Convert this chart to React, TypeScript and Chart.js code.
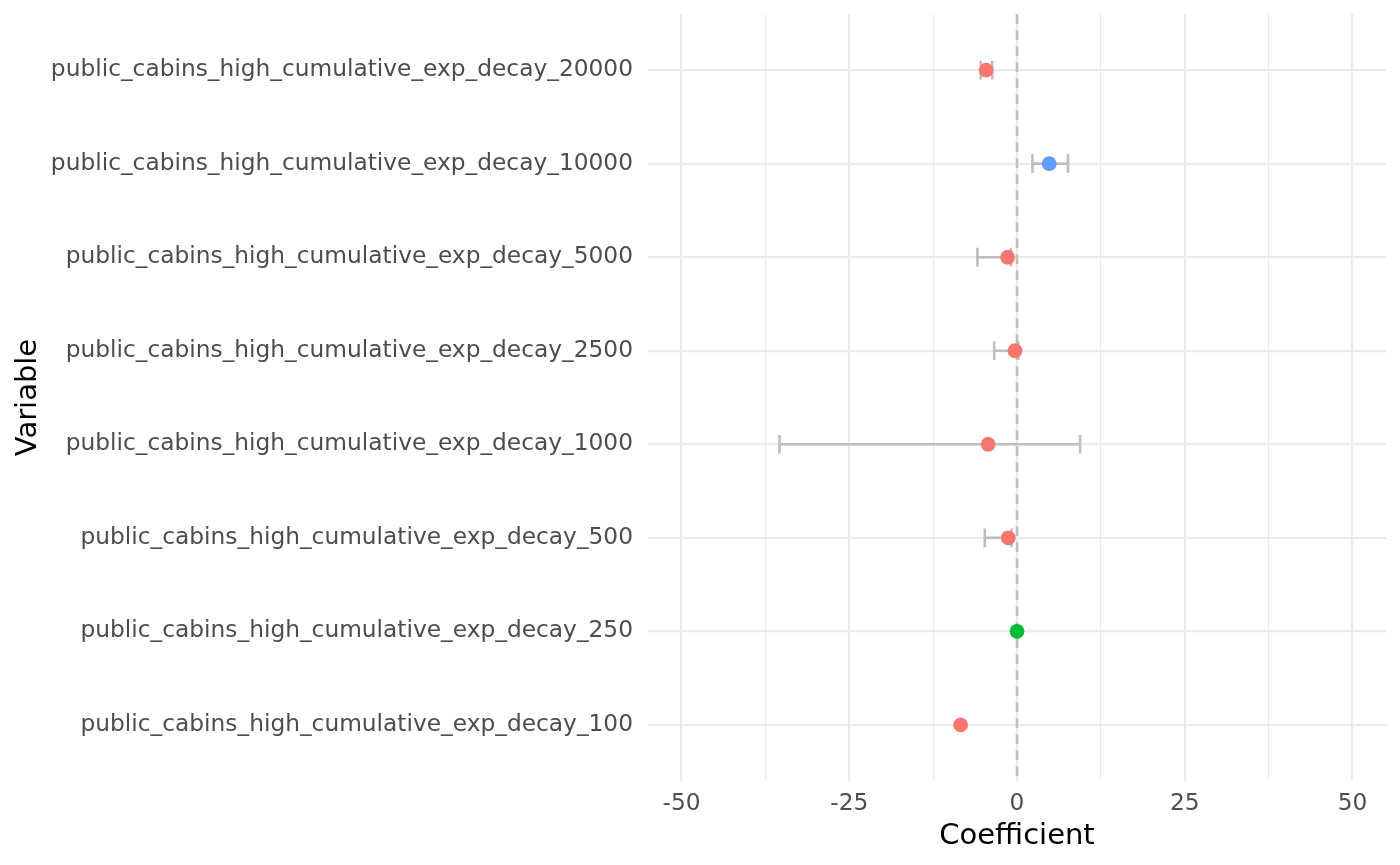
import React, { useEffect, useRef } from "react";
import { Chart, registerables } from "chart.js";

Chart.register(...registerables);

// Data (bottom to top)
const variables = [
  "public_cabins_high_cumulative_exp_decay_100",
  "public_cabins_high_cumulative_exp_decay_250",
  "public_cabins_high_cumulative_exp_decay_500",
  "public_cabins_high_cumulative_exp_decay_1000",
  "public_cabins_high_cumulative_exp_decay_2500",
  "public_cabins_high_cumulative_exp_decay_5000",
  "public_cabins_high_cumulative_exp_decay_10000",
  "public_cabins_high_cumulative_exp_decay_20000",
];
const coefficients = [-8.4, 0.0, -1.3, -4.3, -0.3, -1.4, 4.8, -4.6];
const lowerCI: (number | null)[] = [null, null, -4.8, -35.4, -3.4, -5.9, 2.3, -5.4];
const upperCI: (number | null)[] = [null, null, -0.8, 9.4, 0.2, -0.9, 7.6, -3.7];
const groups = ["neg", "zero", "neg", "neg", "neg", "neg", "pos", "neg"];
const groupColors: Record<string, string> = {
  neg: "#F8766D",
  zero: "#00BA38",
  pos: "#619CFF",
};
const xTickValues = [-50, -37.5, -25, -12.5, 0, 12.5, 25, 37.5, 50];
const xMajorTicks = [-50, -25, 0, 25, 50];

const FONT = "'DejaVu Sans', 'Liberation Sans', sans-serif";

const errorBarPlugin = {
  id: "errorBars",
  beforeDatasetsDraw(chart: any) {
    const { ctx, scales, chartArea } = chart;
    const xs = scales.x;
    const ys = scales.y;
    ctx.save();
    // zero reference line
    const x0 = xs.getPixelForValue(0);
    ctx.strokeStyle = "#BEBEBE";
    ctx.lineWidth = 2.6;
    ctx.setLineDash([10, 6]);
    ctx.beginPath();
    ctx.moveTo(x0, chartArea.top);
    ctx.lineTo(x0, chartArea.bottom);
    ctx.stroke();
    ctx.setLineDash([]);
    // error bars
    ctx.strokeStyle = "#BEBEBE";
    ctx.lineWidth = 2.6;
    for (let i = 0; i < variables.length; i++) {
      const lo = lowerCI[i];
      const hi = upperCI[i];
      if (lo === null || hi === null) continue;
      const y = ys.getPixelForValue(i + 1);
      const yTop = ys.getPixelForValue(i + 1 + 0.1);
      const yBot = ys.getPixelForValue(i + 1 - 0.1);
      const xl = xs.getPixelForValue(lo);
      const xh = xs.getPixelForValue(hi);
      ctx.beginPath();
      ctx.moveTo(xl, y);
      ctx.lineTo(xh, y);
      ctx.moveTo(xl, yTop);
      ctx.lineTo(xl, yBot);
      ctx.moveTo(xh, yTop);
      ctx.lineTo(xh, yBot);
      ctx.stroke();
    }
    ctx.restore();
  },
};

export default function App() {
  const canvasRef = useRef<HTMLCanvasElement | null>(null);

  useEffect(() => {
    if (!canvasRef.current) return;
    const chart = new Chart(canvasRef.current, {
      type: "scatter",
      data: {
        datasets: [
          {
            data: coefficients.map((c, i) => ({ x: c, y: i + 1 })),
            pointRadius: 7.4,
            pointHoverRadius: 7.4,
            pointBorderWidth: 0,
            pointBackgroundColor: groups.map((g) => groupColors[g]),
            pointBorderColor: groups.map((g) => groupColors[g]),
          },
        ],
      },
      options: {
        animation: false,
        responsive: true,
        maintainAspectRatio: false,
        events: [],
        layout: { padding: { top: 14, right: 14, left: 0, bottom: 0 } },
        plugins: {
          legend: { display: false },
          tooltip: { enabled: false },
        },
        scales: {
          x: {
            type: "linear",
            min: -55,
            max: 55,
            afterBuildTicks: (scale: any) => {
              scale.ticks = xTickValues.map((v) => ({ value: v }));
            },
            afterFit: (scale: any) => {
              scale.height = 84;
              scale.paddingLeft = 0;
              scale.paddingRight = 0;
            },
            border: { display: false },
            grid: {
              drawTicks: false,
              color: "#EBEBEB",
              lineWidth: (ctx: any) =>
                xMajorTicks.includes(ctx.tick?.value) ? 2.2 : 1.1,
            },
            ticks: {
              autoSkip: false,
              maxRotation: 0,
              padding: 9,
              color: "#4D4D4D",
              font: { family: FONT, size: 23.3 },
              callback: (v: any) =>
                xMajorTicks.includes(Number(v)) ? String(v) : "",
            },
            title: {
              display: true,
              text: "Coefficient",
              color: "#000000",
              font: { family: FONT, size: 29 },
              padding: { top: 4, bottom: 11 },
            },
          },
          y: {
            type: "linear",
            min: 0.4,
            max: 8.6,
            afterBuildTicks: (scale: any) => {
              scale.ticks = variables.map((_, i) => ({ value: i + 1 }));
            },
            afterFit: (scale: any) => {
              scale.width = 648;
              scale.paddingTop = 0;
              scale.paddingBottom = 0;
            },
            border: { display: false },
            grid: {
              drawTicks: false,
              color: "#EBEBEB",
              lineWidth: 2.2,
            },
            ticks: {
              autoSkip: false,
              padding: 15,
              color: "#4D4D4D",
              font: { family: FONT, size: 23.3 },
              callback: (v: any) => variables[Number(v) - 1] ?? "",
            },
            title: {
              display: true,
              text: "Variable",
              color: "#000000",
              font: { family: FONT, size: 29 },
              padding: { top: 11, bottom: 0 },
            },
          },
        },
      },
      plugins: [errorBarPlugin],
    });
    return () => chart.destroy();
  }, []);

  return (
    <div
      style={{
        position: "fixed",
        left: 0,
        top: 0,
        width: 1400,
        height: 865,
        background: "#ffffff",
      }}
    >
      <canvas ref={canvasRef} />
    </div>
  );
}
